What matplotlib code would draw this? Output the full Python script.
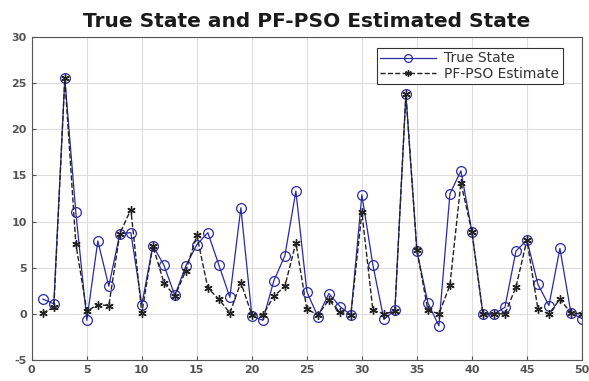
import numpy as np
import matplotlib.pyplot as plt

plt.rcParams['font.family'] = ['DejaVu Sans']
plt.rcParams['axes.unicode_minus'] = False

k = np.arange(1, 51)
true_state = [1.6, 1.1, 25.5, 11.0, -0.7, 7.9, 3.0, 8.7, 8.8, 1.0,
              7.4, 5.3, 2.0, 5.2, 7.5, 8.8, 5.3, 1.8, 11.5, -0.2,
              -0.7, 3.6, 6.3, 13.3, 2.4, -0.3, 2.2, 0.8, -0.1, 12.9,
              5.3, -0.6, 0.4, 23.8, 6.8, 1.2, -1.3, 13.0, 15.5, 8.9,
              0.0, 0.0, 0.7, 6.8, 8.0, 3.2, 0.9, 7.1, 0.1, -0.5]
pso_est = [0.1, 0.7, 25.5, 7.6, 0.3, 1.0, 0.9, 8.7, 11.3, 0.1,
           7.4, 3.4, 1.9, 4.7, 8.5, 2.8, 1.6, 0.1, 3.4, -0.1,
           -0.1, 1.9, 3.0, 7.7, 0.5, -0.1, 1.5, 0.2, -0.1, 11.0,
           0.4, 0.0, 0.3, 23.8, 6.9, 0.4, 0.0, 3.1, 14.2, 8.9,
           0.0, 0.0, 0.0, 2.9, 8.0, 0.5, 0.0, 1.6, 0.1, 0.0]

fig = plt.figure(figsize=(5.89, 3.81), dpi=100)
ax = fig.add_axes([0.054, 0.055, 0.934, 0.848])

ax.plot(k, true_state, '-o', color='#2a2aa0', lw=0.9, ms=7,
        mfc='none', mew=0.9, label='True State')
ax.plot(k, pso_est, '--', marker=(6, 2, 0), color='#222222', lw=1.0,
        ms=6, mew=1.0, label='PF-PSO Estimate')

ax.set_xlim(0, 50)
ax.set_ylim(-5, 30)
ax.set_xticks(range(0, 51, 5))
ax.set_yticks(range(-5, 31, 5))
ax.grid(True, color='#dddddd', lw=0.8)
ax.set_axisbelow(True)
ax.tick_params(direction='in', labelsize=8, colors='#555555', length=3)
for lbl in ax.get_xticklabels() + ax.get_yticklabels():
    lbl.set_fontweight('bold')
for s in ax.spines.values():
    s.set_color('#555555')
    s.set_linewidth(0.8)

ax.set_title('True State and PF-PSO Estimated State', fontsize=14.5,
             fontweight='bold', pad=7.5, color='#1a1a1a')
leg = ax.legend(loc='upper right', bbox_to_anchor=(0.965, 0.966),
                borderaxespad=0, fontsize=10, fancybox=False,
                edgecolor='#333333', framealpha=1, borderpad=0.25,
                labelspacing=0.1, handlelength=4.0, handletextpad=0.6,
                markerscale=0.8)
leg.get_frame().set_linewidth(0.8)
for t in leg.get_texts():
    t.set_color('#333333')

fig.savefig('out.png', dpi=100)
